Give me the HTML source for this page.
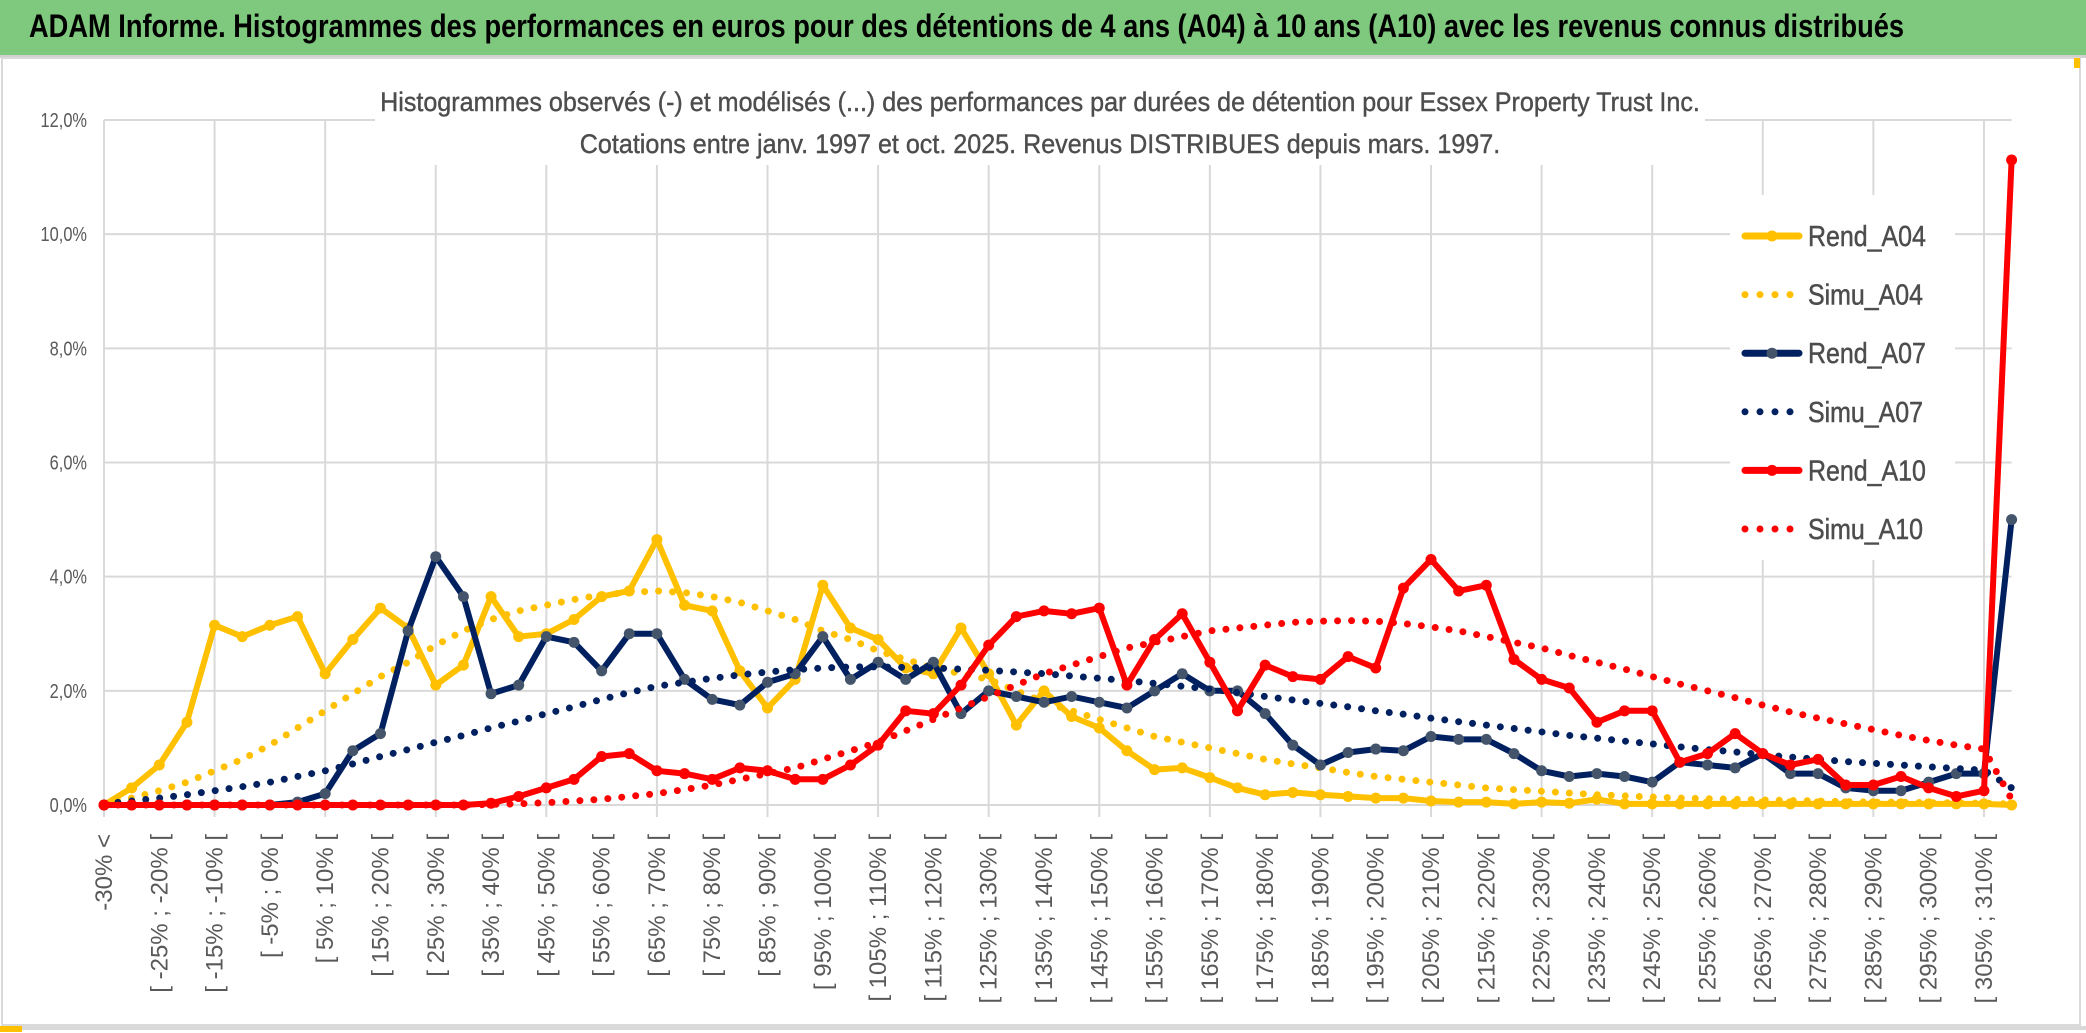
<!DOCTYPE html>
<html><head><meta charset="utf-8">
<style>
html,body{margin:0;padding:0;background:#fff;}
body{width:2086px;height:1033px;overflow:hidden;position:relative;font-family:"Liberation Sans",sans-serif;}
#titlebar{position:absolute;left:0;top:0;width:2086px;height:55px;background:#7fc97f;border-bottom:3px solid #d0d0d0;}
#titlebar span{position:absolute;left:29px;top:8px;font-weight:bold;font-size:32px;color:#000;white-space:nowrap;transform:scaleX(0.851);transform-origin:left top;}
</style></head>
<body>
<div id="titlebar"><span>ADAM Informe. Histogrammes des performances en euros pour des détentions de 4 ans (A04) à 10 ans (A10) avec les revenus connus distribués</span></div>
<svg id="chart" width="2086" height="1033" style="position:absolute;left:0;top:0" xmlns="http://www.w3.org/2000/svg">
<rect x="2" y="58" width="2078" height="967" fill="#fff" stroke="#d9d9d9" stroke-width="2"/>
<rect x="2074" y="58" width="6" height="10" fill="#ffc000"/>
<rect x="0" y="1026" width="2086" height="4" fill="#d9d9d9"/>
<rect x="0" y="1026" width="22" height="6" fill="#ffc000"/>
<g id="grid"></g>
<rect x="375" y="85" width="1330" height="80" fill="#fff"/>
<text x="1040" y="111" text-anchor="middle" font-size="27" fill="#4d4d4d" stroke="#4d4d4d" stroke-width="0.4" transform="translate(1040 0) scale(0.93 1) translate(-1040 0)">Histogrammes observés (-) et modélisés (...) des performances par durées de détention pour Essex Property Trust Inc.</text>
<text x="1040" y="153" text-anchor="middle" font-size="27" fill="#4d4d4d" stroke="#4d4d4d" stroke-width="0.4" transform="translate(1040 0) scale(0.93 1) translate(-1040 0)">Cotations entre janv. 1997 et oct. 2025. Revenus DISTRIBUES depuis mars. 1997.</text>
<g id="yaxis"></g>
<g id="xaxis"></g>
<g id="series"></g>
<g id="legend"></g>
</svg>
<script>
const categories = [];
for (let k = 0; k < 70; k++) { categories.push(k === 0 ? '-30% <' : (k === 69 ? '>= 310%' : '[ ' + (-30 + 5 * (k - 1)) + '% ; ' + (-25 + 5 * (k - 1)) + '% [')); }
const yTicks = [0, 2, 4, 6, 8, 10, 12];
const yTickLabels = ['0,0%', '2,0%', '4,0%', '6,0%', '8,0%', '10,0%', '12,0%'];
const rendA04 = [0,0.3,0.7,1.45,3.15,2.95,3.15,3.3,2.3,2.9,3.45,3.1,2.1,2.45,3.65,2.95,3.0,3.25,3.65,3.75,4.65,3.5,3.4,2.35,1.7,2.2,3.85,3.1,2.9,2.4,2.3,3.1,2.3,1.4,2.0,1.55,1.35,0.95,0.62,0.65,0.48,0.3,0.18,0.22,0.18,0.15,0.12,0.12,0.07,0.05,0.05,0.02,0.05,0.03,0.1,0.02,0.02,0.02,0.02,0.02,0.02,0.02,0.02,0.02,0.02,0.02,0.02,0.02,0.02,0];
const simuA04 = [0.02,0.12,0.25,0.4,0.6,0.8,1.05,1.35,1.65,1.95,2.25,2.5,2.8,3.05,3.25,3.4,3.5,3.6,3.68,3.72,3.75,3.72,3.65,3.55,3.4,3.25,3.05,2.9,2.7,2.55,2.4,2.3,2.2,2.0,1.8,1.65,1.5,1.35,1.2,1.1,1.0,0.9,0.8,0.72,0.65,0.57,0.5,0.45,0.4,0.35,0.3,0.27,0.24,0.21,0.18,0.16,0.14,0.12,0.11,0.1,0.09,0.08,0.07,0.06,0.05,0.05,0.04,0.04,0.03,0.02];
const rendA07 = [0,0,0,0,0,0,0,0.05,0.2,0.95,1.25,3.05,4.35,3.65,1.95,2.1,2.95,2.85,2.35,3.0,3.0,2.2,1.85,1.75,2.15,2.3,2.95,2.2,2.5,2.2,2.5,1.6,2.0,1.9,1.8,1.9,1.8,1.7,2.0,2.3,2.0,2.0,1.6,1.05,0.7,0.92,0.98,0.95,1.2,1.15,1.15,0.9,0.6,0.5,0.55,0.5,0.4,0.75,0.7,0.65,0.9,0.55,0.55,0.3,0.25,0.25,0.4,0.55,0.55,5.0];
const simuA07 = [0.02,0.07,0.12,0.18,0.25,0.32,0.4,0.5,0.6,0.72,0.85,0.97,1.1,1.22,1.35,1.47,1.6,1.72,1.85,1.97,2.08,2.15,2.22,2.28,2.33,2.37,2.4,2.42,2.42,2.41,2.4,2.38,2.36,2.33,2.3,2.26,2.22,2.18,2.13,2.08,2.03,1.97,1.9,1.84,1.78,1.72,1.65,1.59,1.52,1.46,1.4,1.34,1.28,1.22,1.17,1.12,1.07,1.02,0.97,0.93,0.88,0.84,0.8,0.76,0.73,0.7,0.67,0.64,0.61,0.3];
const rendA10 = [0,0,0,0,0,0,0,0,0,0,0,0,0,0,0.03,0.15,0.3,0.45,0.85,0.9,0.6,0.55,0.45,0.65,0.6,0.45,0.45,0.7,1.05,1.65,1.6,2.1,2.8,3.3,3.4,3.35,3.45,2.1,2.9,3.35,2.5,1.65,2.45,2.25,2.2,2.6,2.4,3.8,4.3,3.75,3.85,2.55,2.2,2.05,1.45,1.65,1.65,0.75,0.9,1.25,0.9,0.7,0.8,0.35,0.35,0.5,0.3,0.15,0.25,11.3];
const simuA10 = [0,0,0,0,0,0,0,0,0,0,0,0,0,0,0.01,0.02,0.04,0.07,0.1,0.15,0.2,0.27,0.35,0.45,0.55,0.65,0.8,0.95,1.1,1.3,1.5,1.7,1.9,2.1,2.3,2.45,2.6,2.75,2.85,2.95,3.05,3.1,3.15,3.2,3.22,3.23,3.22,3.18,3.12,3.05,2.95,2.85,2.75,2.62,2.5,2.38,2.25,2.12,2.0,1.88,1.75,1.63,1.52,1.42,1.32,1.22,1.13,1.05,0.98,0.1];
const seriesNames = ['Rend_A04','Simu_A04','Rend_A07','Simu_A07','Rend_A10','Simu_A10'];

const NS = 'http://www.w3.org/2000/svg';
const X0 = 104, X1 = 2011.6, Y0 = 805, Y12 = 120;
function xs(k){ return X0 + (X1 - X0) * k / (categories.length - 1); }
function ys(v){ return Y0 - (Y0 - Y12) * v / 12; }
function mk(tag, attrs, parent){ const e = document.createElementNS(NS, tag); for (const a in attrs) e.setAttribute(a, attrs[a]); parent.appendChild(e); return e; }

const grid = document.getElementById('grid');
yTicks.forEach((t, i) => {
  const l = mk('line', {x1: X0, x2: X1, y1: ys(t), y2: ys(t), stroke: '#d9d9d9', 'stroke-width': 2}, grid);
  
  
});
for (let k = 0; k < categories.length; k += 4) {
  const l = mk('line', {x1: xs(k), x2: xs(k), y1: Y12, y2: Y0 + 12, stroke: '#d9d9d9', 'stroke-width': 2}, grid);
  
  
}
const ya = document.getElementById('yaxis');
yTicks.forEach((t, i) => {
  const tx = mk('text', {x: 0, y: 0, 'text-anchor': 'end', 'font-size': 20, fill: '#595959', transform: 'translate(87 ' + (ys(t) + 7) + ') scale(0.82 1)'}, ya);
  tx.textContent = yTickLabels[i];
  
  
});
const xa = document.getElementById('xaxis');
categories.forEach((c, k) => {
  if (k % 2 !== 0) return;
  const tx = mk('text', {x: 0, y: 0, 'text-anchor': 'end', 'font-size': 24, fill: '#595959', transform: 'translate(' + (xs(k) + 8) + ' 834) rotate(-90)'}, xa);
  tx.textContent = c;
  
  
});

const sg = document.getElementById('series');
function drawRend(vals, color, mcolor, name){
  const g = mk('g', {}, sg);
  
  
  const pts = vals.map((v, k) => xs(k).toFixed(1) + ',' + ys(v).toFixed(1)).join(' ');
  const pl = mk('polyline', {points: pts, fill: 'none', stroke: color, 'stroke-width': 6, 'stroke-linejoin': 'round'}, g);
  
  
  vals.forEach((v, k) => {
    const c = mk('circle', {cx: xs(k), cy: ys(v), r: 5.5, fill: mcolor}, g);
    
    
  });
}
function drawSimu(vals, color, name){
  const pts = vals.map((v, k) => xs(k).toFixed(1) + ',' + ys(v).toFixed(1)).join(' ');
  const pl = mk('polyline', {points: pts, fill: 'none', stroke: color, 'stroke-width': 7, 'stroke-linecap': 'round', 'stroke-dasharray': '0 14'}, sg);
  
  
}
drawRend(rendA04, '#ffc000', '#ffc000', 'rend-a04-series');
drawSimu(simuA04, '#ffc000', 'simu-a04-series');
drawRend(rendA07, '#002060', '#44546a', 'rend-a07-series');
drawSimu(simuA07, '#002060', 'simu-a07-series');
drawRend(rendA10, '#ff0000', '#ff0000', 'rend-a10-series');
drawSimu(simuA10, '#ff0000', 'simu-a10-series');

const lg = document.getElementById('legend');
const lbg = mk('rect', {x: 1730, y: 195, width: 225, height: 365, fill: '#fff'}, lg);


const lColors = ['#ffc000','#ffc000','#002060','#002060','#ff0000','#ff0000'];
const lMarker = ['#ffc000',null,'#44546a',null,'#ff0000',null];
seriesNames.forEach((n, i) => {
  const y = 236 + i * 58.6;
  const g = mk('g', {}, lg);
  
  
  if (lMarker[i]) {
    mk('line', {x1: 1745, x2: 1799, y1: y, y2: y, stroke: lColors[i], 'stroke-width': 7, 'stroke-linecap': 'round'}, g);
    mk('circle', {cx: 1772, cy: y, r: 5.5, fill: lMarker[i]}, g);
  } else {
    mk('line', {x1: 1745, x2: 1795, y1: y, y2: y, stroke: lColors[i], 'stroke-width': 7, 'stroke-linecap': 'round', 'stroke-dasharray': '0 15'}, g);
  }
  const t = mk('text', {x: 0, y: 0, 'font-size': 29, fill: '#4d4d4d', stroke: '#4d4d4d', 'stroke-width': 0.5, transform: 'translate(1808 ' + (y + 10) + ') scale(0.86 1)'}, g);
  t.textContent = n;
});
</script>
</body></html>
